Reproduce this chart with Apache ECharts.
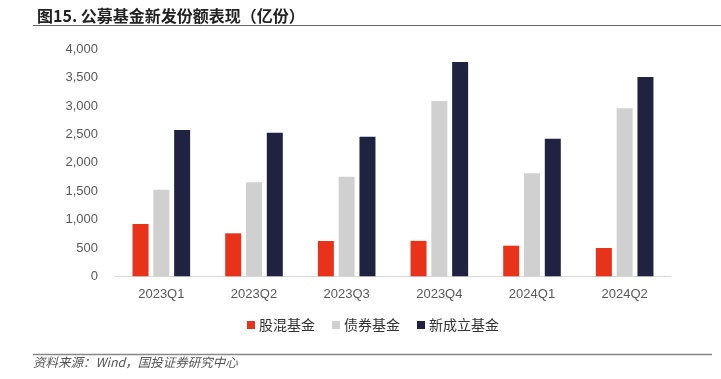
<!DOCTYPE html>
<html>
<head>
<meta charset="utf-8">
<script src="https://cdn.jsdelivr.net/npm/echarts@6/dist/echarts.min.js"></script>
<style>
  html, body { margin: 0; padding: 0; background: #fff; }
  #main { width: 721px; height: 379px; }
</style>
</head>
<body>
<div id="main"></div>
<script>
const categories = ['2023Q1', '2023Q2', '2023Q3', '2023Q4', '2024Q1', '2024Q2']
const stockMixed = [922, 758, 623, 625, 540, 499]
const bond = [1527, 1658, 1757, 3092, 1817, 2963]
const newFunds = [2580, 2533, 2462, 3780, 2427, 3515]
const seriesNames = ['股混基金', '债券基金', '新成立基金']

const colors = ['#e8321a', '#d0d0d0', '#1f2341']
const cjk = '"Noto Sans CJK SC", sans-serif'
const latin = '"Liberation Sans", Arial, sans-serif'

const chart = echarts.init(document.getElementById('main'), null, { renderer: 'canvas' })

const barSeries = (name, data, color) => ({
  name: name,
  type: 'bar',
  data: data,
  barWidth: 16,
  barGap: '30%',
  itemStyle: { color: color }
})

chart.setOption({
  animation: false,
  title: {
    text: '图15. 公募基金新发份额表现（亿份）',
    left: 32,
    top: 3,
    textStyle: { fontFamily: cjk, fontSize: 16, fontWeight: 'bold', color: '#222' }
  },
  graphic: [
    { type: 'line', shape: { x1: 33, y1: 25.5, x2: 721, y2: 25.5 }, style: { stroke: '#666', lineWidth: 1 } },
    { type: 'line', shape: { x1: 33, y1: 354.5, x2: 712, y2: 354.5 }, style: { stroke: '#888', lineWidth: 1.5 } },
    {
      type: 'text', left: 33, top: 356,
      style: { text: '资料来源：Wind，国投证券研究中心', font: 'italic 12.5px "Noto Sans CJK SC", sans-serif', fill: '#555' }
    }
  ],
  legend: {
    data: seriesNames,
    top: 318,
    left: 247,
    padding: 0,
    icon: 'rect',
    itemWidth: 8,
    itemHeight: 8,
    itemGap: 17,
    textStyle: { fontFamily: cjk, fontSize: 14, color: '#333', padding: [0, 0, 0, -1] }
  },
  grid: { left: 115, right: 50, top: 49.5, bottom: 102.7 },
  xAxis: {
    type: 'category',
    data: categories,
    axisTick: { show: false },
    axisLine: { lineStyle: { color: '#d9d9d9' } },
    axisLabel: { fontFamily: latin, fontSize: 13, color: '#595959', margin: 12 }
  },
  yAxis: {
    type: 'value',
    min: 0,
    max: 4000,
    interval: 500,
    splitLine: { show: false },
    axisLine: { show: false },
    axisTick: { show: false },
    axisLabel: {
      fontFamily: latin, fontSize: 13, color: '#595959', margin: 17,
      formatter: v => v.toLocaleString('en-US')
    }
  },
  series: [
    barSeries(seriesNames[0], stockMixed, colors[0]),
    barSeries(seriesNames[1], bond, colors[1]),
    barSeries(seriesNames[2], newFunds, colors[2])
  ]
})
</script>
</body>
</html>
